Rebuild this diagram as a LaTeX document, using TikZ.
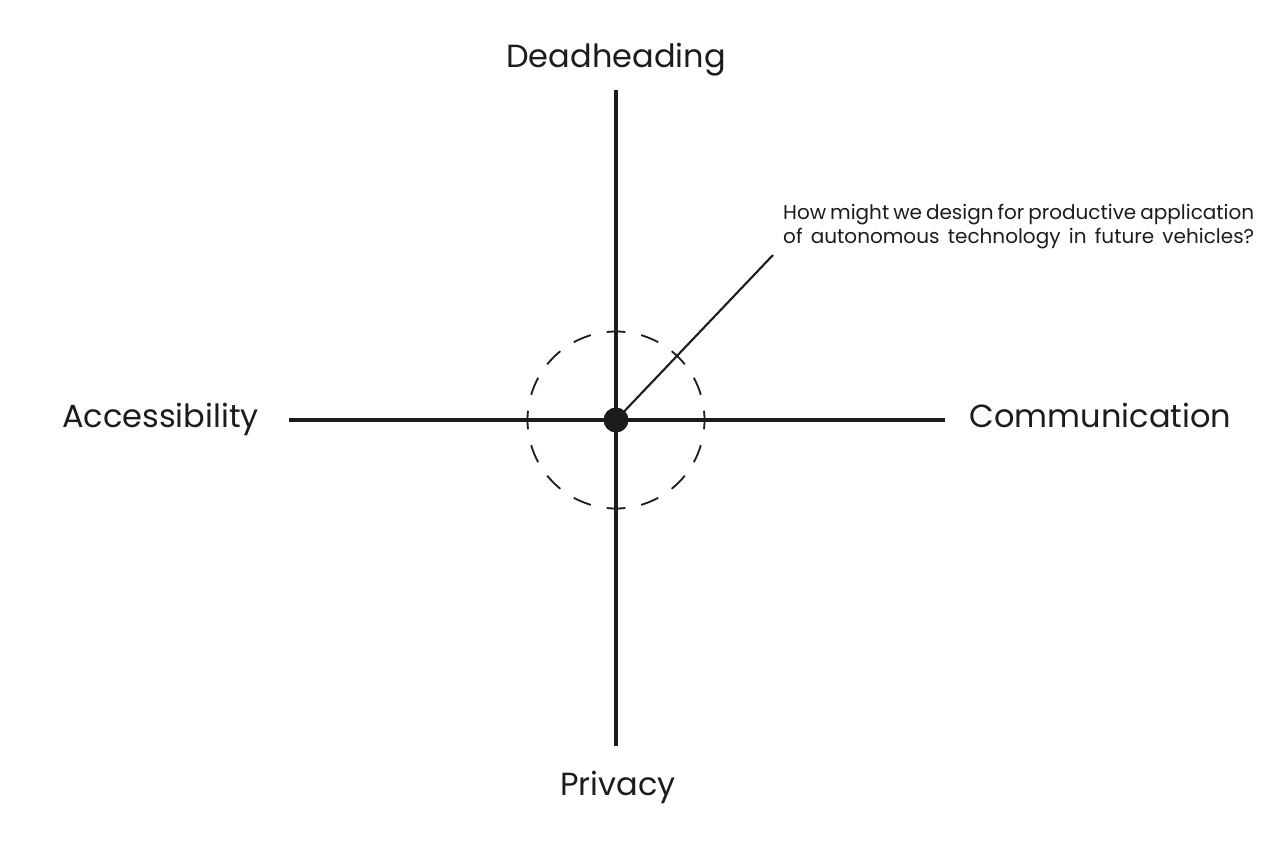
\documentclass[tikz,border=0pt]{standalone}
\usepackage{fontspec}
\setmainfont{Poppins}
\usetikzlibrary{calc}
\begin{document}
\begin{tikzpicture}[x=1pt,y=-1pt,
  axis/.style={line width=3.1pt,draw=ink},
  ring/.style={line width=1.8pt,draw=ink},
  pointer/.style={line width=2.1pt,draw=ink},
  biglabel/.style={font=\fontsize{32}{38}\selectfont,text=ink,inner sep=0pt,anchor=base},
  qlabel/.style={font=\fontsize{20}{24}\selectfont,text=ink,inner sep=0pt,anchor=north west,align=left}]
\definecolor{ink}{HTML}{1C1C1C}
\useasboundingbox[fill=white] (0,0) rectangle (1287,864);
\coordinate (c) at (616,420);
\coordinate (top) at (616,90);
\coordinate (bot) at (616,746);
\coordinate (lft) at (289,420);
\coordinate (rgt) at (945,420);
\coordinate (tip) at (773,255);
\draw[axis] (top) -- (bot);
\draw[axis] (lft) -- (rgt);
\draw[pointer] (c) -- (tip);
\foreach \a in {0,22.5,...,337.5}{
  \draw[ring] ($(c)+(\a-6:88.5)$) arc[start angle=\a-6,end angle=\a+6,radius=88.5];
}
\fill[ink] (c) circle[radius=12.5];
\node[biglabel] (dh) at (616,68) {Deadheading};
\node[biglabel] (pv) at (618,795) {Privacy};
\node[biglabel] (ac) at (160.5,427) {Accessibility};
\node[biglabel] (cm) at (1100.5,427) {Communication};
\node[qlabel] (q) at (783,204) {\makebox[471pt][s]{How might we design for productive application}\\[0pt]\makebox[471pt][s]{of autonomous technology in future vehicles?}};
\end{tikzpicture}
\end{document}
